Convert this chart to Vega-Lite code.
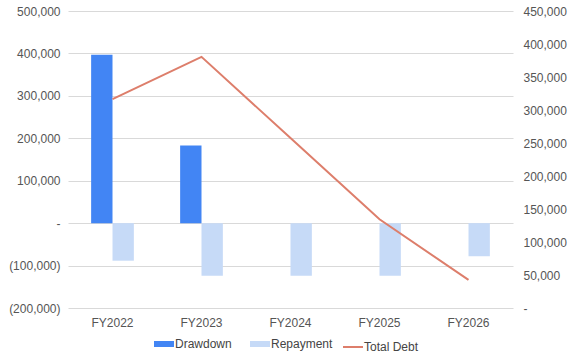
{
  "$schema": "https://vega.github.io/schema/vega-lite/v6.json",
  "autosize": {"type": "none"},
  "padding": {"left": 68, "top": 11, "right": 60, "bottom": 53},
  "width": 445,
  "height": 297,
  "config": {
    "font": "Liberation Sans",
    "view": {"stroke": null},
    "axis": {"labelFont": "Liberation Sans", "labelFontSize": 12, "labelColor": "#555555", "ticks": false, "domain": false, "title": null}
  },
  "data": {
    "values": [
      {"fy": "FY2022", "series": "Drawdown", "value": 397000},
      {"fy": "FY2022", "series": "Repayment", "value": -88500},
      {"fy": "FY2023", "series": "Drawdown", "value": 183000},
      {"fy": "FY2023", "series": "Repayment", "value": -124000},
      {"fy": "FY2024", "series": "Drawdown", "value": 0},
      {"fy": "FY2024", "series": "Repayment", "value": -124000},
      {"fy": "FY2025", "series": "Drawdown", "value": 0},
      {"fy": "FY2025", "series": "Repayment", "value": -124000},
      {"fy": "FY2026", "series": "Drawdown", "value": 0},
      {"fy": "FY2026", "series": "Repayment", "value": -78000},
      {"fy": "FY2022", "series": "Total Debt", "value": 316500},
      {"fy": "FY2023", "series": "Total Debt", "value": 380500},
      {"fy": "FY2024", "series": "Total Debt", "value": 257500},
      {"fy": "FY2025", "series": "Total Debt", "value": 134500},
      {"fy": "FY2026", "series": "Total Debt", "value": 42500}
    ]
  },
  "encoding": {
    "x": {
      "field": "fy", "type": "nominal", "sort": null,
      "scale": {"paddingInner": 0.52, "paddingOuter": 0.26},
      "axis": {"labelAngle": 0, "labelPadding": 9, "grid": false}
    },
    "color": {
      "field": "series", "type": "nominal",
      "scale": {"domain": ["Drawdown", "Repayment", "Total Debt"], "range": ["#4285F4", "#C6DAF7", "#DD7E6B"]},
      "legend": {
        "title": null, "orient": "none", "legendX": 90, "legendY": 327, "direction": "horizontal",
        "symbolType": "stroke", "symbolSize": 400, "labelFontSize": 12, "labelColor": "#444444",
        "labelFont": "Liberation Sans", "labelOffset": 5, "columnPadding": 6,
        "encode": {
          "symbols": {
            "update": {
              "stroke": {"signal": "scale('color', datum.value)"},
              "strokeWidth": {"signal": "datum.value == 'Total Debt' ? 2 : 6"},
              "opacity": {"value": 1}
            }
          }
        }
      }
    }
  },
  "layer": [
    {
      "transform": [{"filter": "datum.series != 'Total Debt'"}],
      "mark": {"type": "bar"},
      "encoding": {
        "xOffset": {"field": "series", "type": "nominal", "scale": {"domain": ["Drawdown", "Repayment"], "paddingInner": 0, "paddingOuter": 0}},
        "y": {
          "field": "value", "type": "quantitative",
          "scale": {"domain": [-200000, 500000], "nice": false},
          "axis": {
            "values": [-200000, -100000, 0, 100000, 200000, 300000, 400000, 500000],
            "grid": true, "gridColor": "#d9d9d9", "labelPadding": 8,
            "labelExpr": "datum.value == 0 ? '-' : (datum.value < 0 ? '(' + format(-datum.value, ',') + ')' : format(datum.value, ','))"
          }
        }
      }
    },
    {
      "transform": [{"filter": "datum.series == 'Total Debt'"}],
      "mark": {"type": "line", "strokeWidth": 2},
      "encoding": {
        "y": {
          "field": "value", "type": "quantitative",
          "scale": {"domain": [0, 450000], "nice": false},
          "axis": {
            "orient": "right",
            "values": [0, 50000, 100000, 150000, 200000, 250000, 300000, 350000, 400000, 450000],
            "grid": false, "labelPadding": 10,
            "labelExpr": "datum.value == 0 ? '-' : format(datum.value, ',')"
          }
        }
      }
    }
  ],
  "resolve": {"scale": {"y": "independent"}}
}
